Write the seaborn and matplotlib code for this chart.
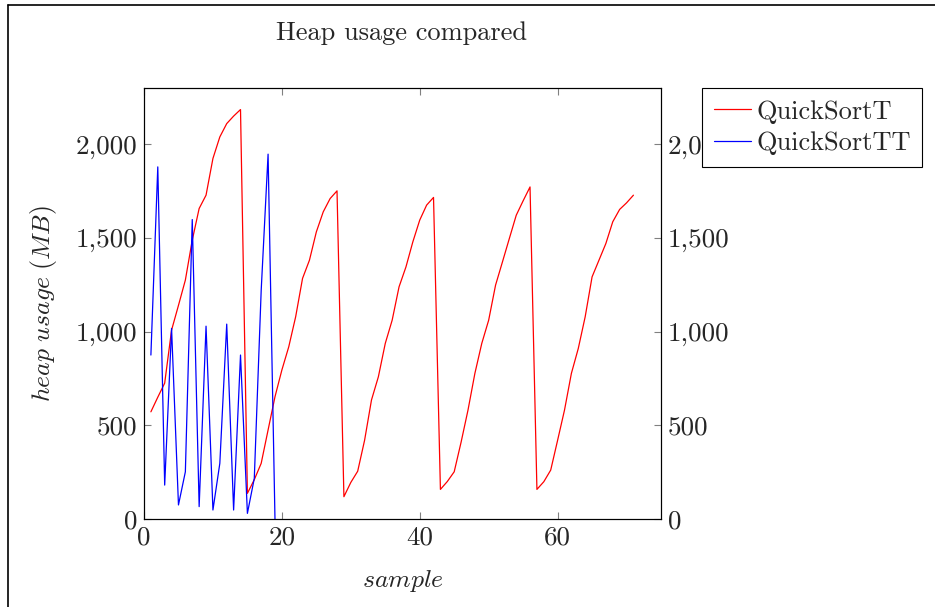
import numpy as np
import pandas as pd
import matplotlib
matplotlib.use("Agg")
import matplotlib.pyplot as plt
import seaborn as sns
from matplotlib.ticker import FuncFormatter
from matplotlib.lines import Line2D

# QuickSortT, samples 1..71 (MB)
samples_t = np.arange(1, 72)
heap_t = [572, 650, 725, 1008, 1140, 1275, 1488, 1657, 1728, 1924,
          2039, 2110, 2150, 2185, 137, 210, 297, 475, 652, 795,
          919, 1079, 1284, 1381, 1532, 1639, 1710, 1751, 119, 195,
          255, 420, 635, 759, 937, 1061, 1239, 1345, 1479, 1595,
          1675, 1716, 158, 200, 252, 410, 581, 777, 937, 1061,
          1248, 1372, 1497, 1621, 1698, 1772, 158, 199, 261, 420,
          581, 777, 910, 1079, 1292, 1381, 1470, 1586, 1652, 1687,
          1728]

# QuickSortTT, samples 1..19 (MB)
samples_tt = np.arange(1, 20)
heap_tt = [875, 1879, 181, 1017, 75, 252, 1598, 66, 1029, 48,
           297, 1040, 48, 875, 30, 217, 1220, 1947, 0]

yticks = [0, 500, 1000, 1500, 2000]
xticks = [0, 20, 40, 60]

df_t = pd.DataFrame({"sample": samples_t, "heap": heap_t})
df_tt = pd.DataFrame({"sample": samples_tt, "heap": heap_tt})

sns.set_style("white")
plt.rcParams["font.family"] = ["cmr10", "DejaVu Serif"]
plt.rcParams["mathtext.fontset"] = "cm"
plt.rcParams["axes.unicode_minus"] = False
fs = 19.5

fig = plt.figure(figsize=(9.35, 6.07), dpi=100)
ax = fig.add_axes([144 / 935, 1 - 519 / 607, (661 - 144) / 935, (519 - 88) / 607])

sns.lineplot(data=df_t, x="sample", y="heap", color="red", linewidth=0.9, ax=ax, label="QuickSortT")
sns.lineplot(data=df_tt, x="sample", y="heap", color="blue", linewidth=0.9, ax=ax, label="QuickSortTT")
ax.get_legend().remove()

ax.set_xlim(0, 75)
ax.set_ylim(0, 2300)
ax.set_xticks(xticks)
ax.set_yticks(yticks)
fmt = FuncFormatter(lambda v, p: f"{v:,.0f}")
ax.yaxis.set_major_formatter(fmt)
ax.tick_params(direction="in", length=5, width=0.8, color="0.5", labelsize=fs,
               top=True, bottom=True, left=True, right=False, pad=5)
for s in ax.spines.values():
    s.set_color("black")
    s.set_linewidth(0.8)

ax.set_xlabel(r"$sample$", fontsize=18.5, labelpad=13)
ax.set_ylabel(r"$heap\ usage\ (MB)$", fontsize=18.5, labelpad=12)

ax2 = ax.twinx()
ax2.set_ylim(0, 2300)
ax2.set_yticks(yticks)
ax2.yaxis.set_major_formatter(fmt)
ax2.tick_params(direction="in", length=5, width=0.8, color="0.5", labelsize=fs, pad=5)
for s in ax2.spines.values():
    s.set_color("black")
    s.set_linewidth(0.8)

fig.text(402 / 935, 1 - 33 / 607, "Heap usage compared", ha="center", va="center", fontsize=19)

handles = [Line2D([], [], color="red", linewidth=0.9), Line2D([], [], color="blue", linewidth=0.9)]
leg = fig.legend(handles, ["QuickSortT", "QuickSortTT"], loc="upper left",
                 bbox_to_anchor=(702 / 935, 1 - 88 / 607), fontsize=19,
                 frameon=True, fancybox=False, framealpha=1, edgecolor="black",
                 handlelength=1.4, handletextpad=0.2, borderpad=0.45, labelspacing=0.3,
                 borderaxespad=0)
leg.get_frame().set_linewidth(0.8)

# outer frame (top and left edges only are visible in the reference)
fig.add_artist(Line2D([8 / 935, 1], [1 - 5 / 607, 1 - 5 / 607], color="black", linewidth=1.2))
fig.add_artist(Line2D([8 / 935, 8 / 935], [0, 1 - 5 / 607], color="black", linewidth=1.2))

fig.savefig("out.png", dpi=100, facecolor="white")
